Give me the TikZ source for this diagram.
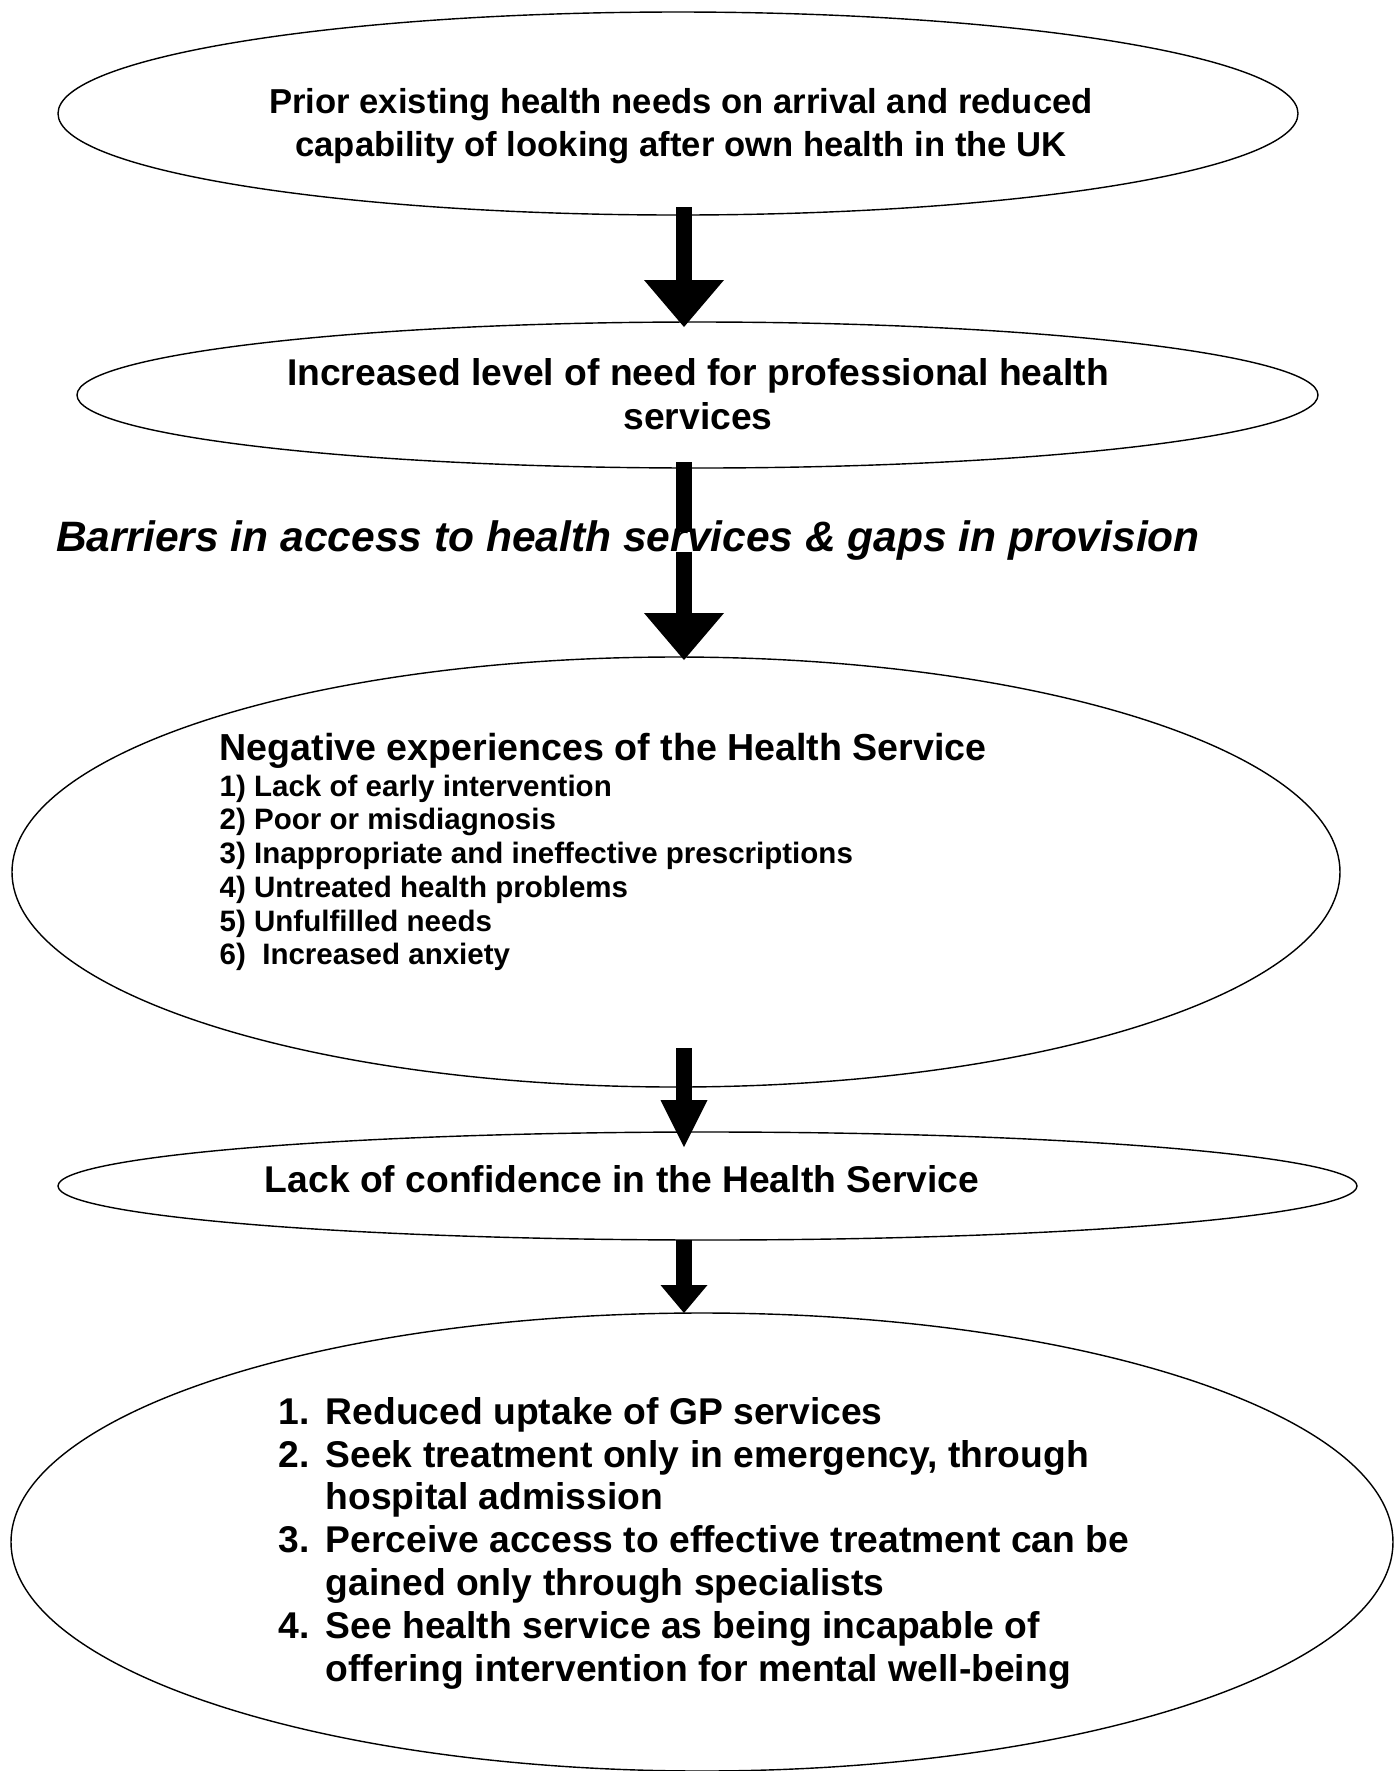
\documentclass[tikz,border=0pt]{standalone}
\usepackage{fontspec}
\setmainfont{Liberation Sans}
\usetikzlibrary{shapes.geometric,arrows.meta,calc}

\tikzset{
  bubble/.style={draw,ellipse,line width=0.4pt,inner sep=0pt,outer sep=0pt},
  bodytext/.style={font=\fontsize{10.6}{12.4}\selectfont\bfseries,inner sep=0pt,align=center},
  toptext/.style={font=\fontsize{9.85}{12.2}\selectfont\bfseries,inner sep=0pt,align=center},
  headtext/.style={font=\fontsize{10.7}{12}\selectfont\bfseries,inner sep=0pt},
  smalllist/.style={font=\fontsize{8.4}{9.6}\selectfont\bfseries,inner sep=0pt,align=left},
  biglist/.style={font=\fontsize{10.6}{12.2}\selectfont\bfseries,inner sep=0pt,align=left},
  titletext/.style={font=\fontsize{12.1}{14}\selectfont\bfseries\itshape,inner sep=0pt,
    fill=white,text height=0.52em,text depth=0pt},
  fat line/.style={line width=1.6mm},
  fat arrow/.style={fat line,-{Triangle[width=8mm,length=4.7mm,line width=0pt]}},
  slim arrow/.style={fat line,-{Triangle[width=4.7mm,length=4.7mm,line width=0pt]}},
  stub arrow/.style={fat line,-{Triangle[width=4.7mm,length=2.8mm,line width=0pt]}}
}

\begin{document}
\begin{tikzpicture}
\useasboundingbox (0,0) rectangle (14,-17.71);
\coordinate (ax) at (6.84,0); % x of the arrows
% Ellipses
\node[bubble,minimum width=12.40cm,minimum height=2.03cm] (prior) at (6.78,-1.135) {};
\node[bubble,minimum width=12.41cm,minimum height=1.46cm] (need) at (6.975,-3.95) {};
\node[bubble,minimum width=13.28cm,minimum height=4.30cm] (negative) at (6.76,-8.72) {};
\node[bubble,minimum width=12.99cm,minimum height=1.08cm] (confidence) at (7.075,-11.86) {};
\node[bubble,minimum width=13.82cm,minimum height=4.58cm] (uptake) at (7.02,-15.42) {};
% Texts
\node[toptext] (prior-txt) at (6.81,-1.265) {Prior existing health needs on arrival and reduced\\capability of looking after own health in the UK};
\node[bodytext] (need-txt) at (6.98,-3.94) {Increased level of need for professional health\\services};
\node[headtext,anchor=base west] (negative-head) at (2.19,-7.605) {Negative experiences of the Health Service};
\node[smalllist,anchor=north west] (negative-list) at (2.19,-7.74) {1) Lack of early intervention\\
  2) Poor or misdiagnosis\\
  3) Inappropriate and ineffective prescriptions\\
  4) Untreated health problems\\
  5) Unfulfilled needs\\
  6)~ Increased anxiety};
\node[bodytext,anchor=base] (confidence-txt) at (6.22,-11.925) {Lack of confidence in the Health Service};
\node[biglist,anchor=north west] (uptake-txt) at (2.78,-13.965) {\makebox[0.47cm][l]{1.}Reduced uptake of GP services\\
  \makebox[0.47cm][l]{2.}Seek treatment only in emergency, through\\
  \hspace*{0.47cm}hospital admission\\
  \makebox[0.47cm][l]{3.}Perceive access to effective treatment can be\\
  \hspace*{0.47cm}gained only through specialists\\
  \makebox[0.47cm][l]{4.}See health service as being incapable of\\
  \hspace*{0.47cm}offering intervention for mental well-being};
% Barriers label sits on the second arrow
\node[titletext,anchor=base] (barriers) at (6.28,-5.51) {Barriers in access to health services \& gaps in provision};
% Arrows
\draw[fat arrow] ($(prior.south -| ax)+(0,0.08)$) -- ($(need.north -| ax)+(0,-0.05)$);
\draw[fat line] ($(need.south -| ax)+(0,0.06)$) -- (barriers.north -| ax);
\draw[fat arrow] (barriers.south -| ax) -- ($(negative.north -| ax)+(0,-0.03)$);
\draw[slim arrow] ($(negative.south -| ax)+(0,0.39)$) -- ($(confidence.north -| ax)+(0,-0.15)$);
\draw[stub arrow] (confidence.south -| ax) -- (uptake.north -| ax);
\end{tikzpicture}
\end{document}
